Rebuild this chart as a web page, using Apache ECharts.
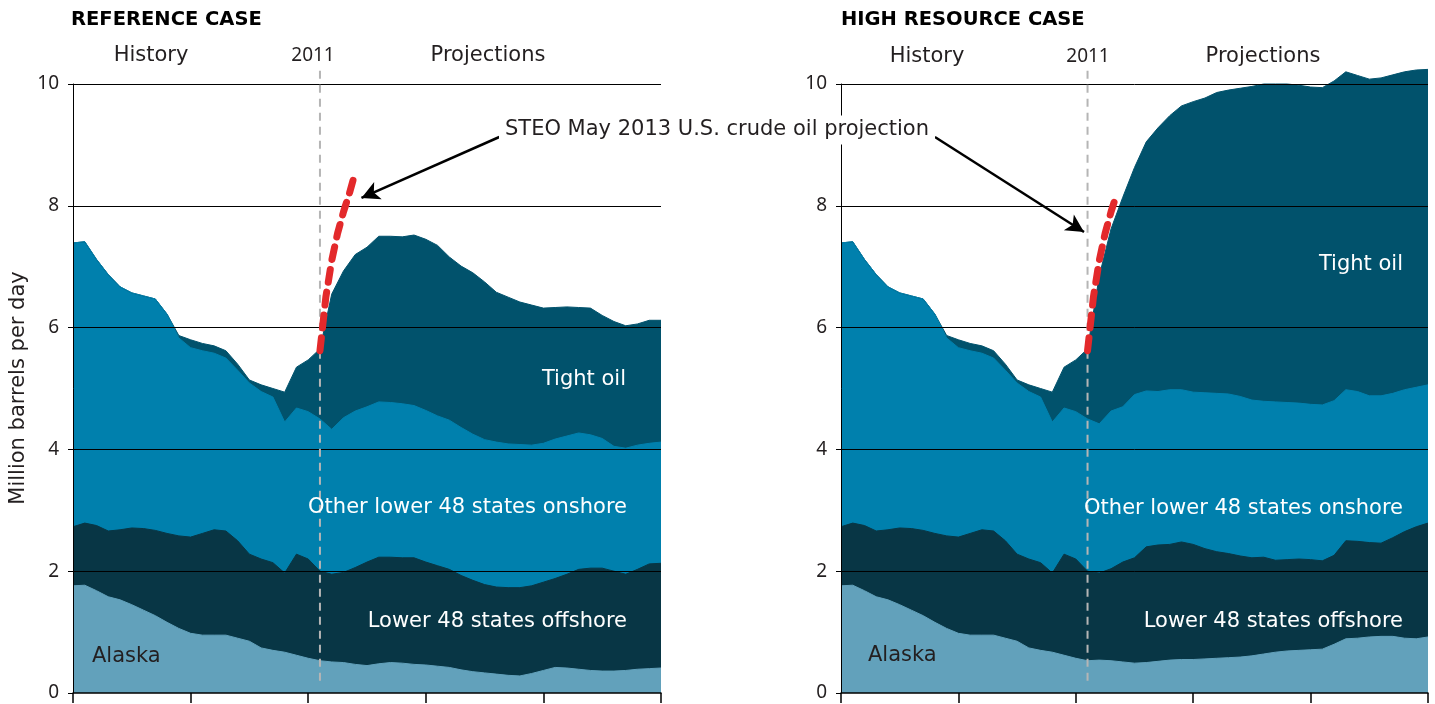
<!DOCTYPE html>
<html>
<head>
<meta charset="utf-8">
<script src="https://cdn.jsdelivr.net/npm/echarts@6/dist/echarts.min.js"></script>
<style>
  html, body { margin: 0; padding: 0; background: #fff; }
  #chart { width: 1435px; height: 704px; }
</style>
</head>
<body>
<div id="chart"></div>
<script>
// years on the x axis
const histYears = [1990, 1991, 1992, 1993, 1994, 1995, 1996, 1997, 1998, 1999, 2000,
  2001, 2002, 2003, 2004, 2005, 2006, 2007, 2008, 2009, 2010, 2011]
const projYears = [2012, 2013, 2014, 2015, 2016, 2017, 2018, 2019, 2020, 2021, 2022,
  2023, 2024, 2025, 2026, 2027, 2028, 2029, 2030, 2031, 2032, 2033, 2034, 2035,
  2036, 2037, 2038, 2039, 2040]

// history (same in both cases), million barrels per day
const alaskaHist = [1.76, 1.77, 1.68, 1.58, 1.53, 1.45, 1.36, 1.27, 1.16, 1.06, 0.98,
  0.95, 0.95, 0.95, 0.90, 0.85, 0.74, 0.70, 0.67, 0.62, 0.57, 0.53]
const offshoreHist = [0.97, 1.02, 1.07, 1.08, 1.15, 1.26, 1.34, 1.40, 1.46, 1.52, 1.58,
  1.67, 1.73, 1.71, 1.60, 1.43, 1.46, 1.44, 1.30, 1.66, 1.63, 1.47]
const onshoreHist = [4.66, 4.62, 4.37, 4.21, 3.99, 3.86, 3.82, 3.80, 3.60, 3.25, 3.11,
  3.00, 2.90, 2.84, 2.80, 2.81, 2.75, 2.72, 2.48, 2.40, 2.42, 2.50]
const tightHist = [0, 0, 0, 0, 0, 0, 0, 0, 0, 0.04, 0.13,
  0.12, 0.12, 0.12, 0.10, 0.05, 0.11, 0.14, 0.49, 0.67, 0.85, 1.15]

// reference case projections
const alaskaRef = [0.51, 0.50, 0.47, 0.45, 0.48, 0.50, 0.49, 0.47, 0.46, 0.44, 0.42,
  0.38, 0.35, 0.33, 0.31, 0.29, 0.28, 0.32, 0.37, 0.42, 0.41, 0.39, 0.37, 0.36,
  0.36, 0.37, 0.39, 0.40, 0.41]
const offshoreRef = [1.44, 1.48, 1.59, 1.70, 1.75, 1.73, 1.73, 1.75, 1.69, 1.65, 1.61,
  1.55, 1.50, 1.45, 1.43, 1.44, 1.45, 1.44, 1.45, 1.46, 1.54, 1.64, 1.68, 1.69,
  1.64, 1.58, 1.64, 1.72, 1.72]
const onshoreRef = [2.38, 2.54, 2.57, 2.55, 2.55, 2.54, 2.53, 2.50, 2.49, 2.46, 2.45,
  2.43, 2.40, 2.38, 2.38, 2.36, 2.35, 2.31, 2.28, 2.29, 2.27, 2.24, 2.19, 2.13,
  2.05, 2.07, 2.04, 1.98, 1.99]
const tightRef = [2.22, 2.41, 2.57, 2.62, 2.72, 2.73, 2.74, 2.80, 2.81, 2.80, 2.68,
  2.65, 2.65, 2.59, 2.46, 2.41, 2.34, 2.30, 2.22, 2.16, 2.12, 2.06, 2.08, 2.02,
  2.05, 2.01, 1.99, 2.02, 2.00]

// high resource case projections
const alaskaHigh = [0.54, 0.53, 0.51, 0.49, 0.50, 0.52, 0.54, 0.55, 0.55, 0.56, 0.57,
  0.58, 0.59, 0.61, 0.64, 0.67, 0.69, 0.70, 0.71, 0.72, 0.80, 0.89, 0.90, 0.92,
  0.93, 0.93, 0.90, 0.89, 0.92]
const offshoreHigh = [1.43, 1.51, 1.64, 1.73, 1.90, 1.91, 1.90, 1.93, 1.89, 1.81, 1.75,
  1.71, 1.66, 1.61, 1.59, 1.51, 1.50, 1.50, 1.48, 1.45, 1.46, 1.61, 1.59, 1.55,
  1.53, 1.62, 1.75, 1.84, 1.87]
const onshoreHigh = [2.45, 2.59, 2.55, 2.68, 2.56, 2.52, 2.54, 2.50, 2.50, 2.56, 2.60,
  2.62, 2.62, 2.59, 2.56, 2.60, 2.58, 2.56, 2.55, 2.56, 2.54, 2.48, 2.46, 2.41,
  2.42, 2.37, 2.33, 2.29, 2.27]
const tightHigh = [2.43, 2.99, 3.44, 3.73, 4.09, 4.33, 4.50, 4.66, 4.77, 4.84, 4.94,
  4.99, 5.06, 5.15, 5.21, 5.22, 5.23, 5.22, 5.21, 5.21, 5.25, 5.22, 5.19, 5.20,
  5.22, 5.23, 5.22, 5.21, 5.18]

// STEO May 2013 projection (red dashes)
const steoYears = [2011, 2011.5, 2012, 2012.5, 2013, 2013.5, 2014]
const steoValues = [5.62, 6.5, 7.1, 7.55, 7.9, 8.2, 8.55]

const yTicks = [2, 4, 6, 8, 10]
const splitYear = 2011
const splitSpan = [0.2, 10.25]

const FONT = '"Noto Sans", sans-serif'
const LABEL_FONT = '"DejaVu Sans", sans-serif'
const colors = {
  alaska: '#62a1bb',
  offshore: '#083645',
  onshore: '#0080ad',
  tight: '#01526c'
}

const years = histYears.concat(projYears)
const pairs = (xs, vs) => xs.map((x, i) => [x, vs[i]])

const chart = echarts.init(document.getElementById('chart'))

const grids = [
  { left: 73, width: 588, top: 84, height: 609 },
  { left: 841, width: 587, top: 84, height: 609 }
]

const cases = [
  {
    layers: [
      [alaskaHist.concat(alaskaRef), colors.alaska],
      [offshoreHist.concat(offshoreRef), colors.offshore],
      [onshoreHist.concat(onshoreRef), colors.onshore],
      [tightHist.concat(tightRef), colors.tight]
    ],
    steo: pairs(steoYears, steoValues),
    arrow: [[2026.25, 9.13], [2014.53, 8.13]]
  },
  {
    layers: [
      [alaskaHist.concat(alaskaHigh), colors.alaska],
      [offshoreHist.concat(offshoreHigh), colors.offshore],
      [onshoreHist.concat(onshoreHigh), colors.onshore],
      [tightHist.concat(tightHigh), colors.tight]
    ],
    steo: pairs(steoYears.slice(0, 6), steoValues.slice(0, 6)),
    arrow: [[1998, 9.13], [2010.7, 7.57]]
  }
]

const xAxes = grids.map((g, i) => ({
  gridIndex: i,
  type: 'value',
  min: 1990,
  max: 2040,
  interval: 10,
  z: 10,
  axisLine: { lineStyle: { color: '#000', width: 1.5 } },
  axisTick: { length: 10, lineStyle: { color: '#000', width: 1.5 } },
  axisLabel: { show: false },
  splitLine: { show: false }
}))

const yAxes = grids.map((g, i) => ({
  gridIndex: i,
  type: 'value',
  min: 0,
  max: 10,
  interval: 2,
  z: 10,
  axisLine: { show: true, lineStyle: { color: '#000', width: 1 } },
  axisTick: { show: true, length: 5, lineStyle: { color: '#000' } },
  axisLabel: { fontSize: 19, color: '#231f20', margin: 14, fontFamily: FONT },
  splitLine: { show: false }
}))

const series = []
cases.forEach((c, i) => {
  // running totals, top layer drawn first so lower layers sit on top of it
  const tops = []
  c.layers.forEach(([vals], k) => {
    tops.push(vals.map((v, j) => +(v + (k ? tops[k - 1][j] : 0)).toFixed(2)))
  })
  for (let k = c.layers.length - 1; k >= 0; k--) {
    const color = c.layers[k][1]
    const s = {
      type: 'line',
      xAxisIndex: i,
      yAxisIndex: i,
      symbol: 'none',
      silent: true,
      clip: false,
      lineStyle: { width: 1, color: color },
      areaStyle: { color: color, opacity: 1, origin: 'start' },
      data: pairs(years, tops[k])
    }
    if (k === 0) {
      // gridlines drawn over the areas
      s.markLine = {
        silent: true,
        symbol: 'none',
        z: 5,
        label: { show: false },
        lineStyle: { color: '#000', width: 1, type: 'solid' },
        data: yTicks.map((v) => ({ yAxis: v }))
      }
    }
    series.push(s)
  }

  // 2011 history / projection divider
  series.push({
    type: 'line',
    xAxisIndex: i,
    yAxisIndex: i,
    symbol: 'none',
    silent: true,
    clip: false,
    z: 6,
    lineStyle: { color: '#b5b5b5', width: 2, type: [8, 6] },
    data: [[splitYear, splitSpan[0]], [splitYear, splitSpan[1]]]
  })

  series.push({
    type: 'line',
    xAxisIndex: i,
    yAxisIndex: i,
    symbol: 'none',
    silent: true,
    clip: false,
    z: 7,
    lineStyle: { color: '#e3292b', width: 7, type: [13, 10], cap: 'round' },
    data: c.steo,
    markLine: {
      silent: true,
      z: 8,
      label: { show: false },
      symbol: ['none', 'arrow'],
      symbolSize: [14, 18],
      lineStyle: { color: '#000', width: 2.5, type: 'solid' },
      data: [[{ coord: c.arrow[0] }, { coord: c.arrow[1] }]]
    }
  })
})

const txt = (text, x, y, align, opts) => Object.assign({
  type: 'text',
  x: x,
  y: y,
  z: 20,
  style: Object.assign({
    text: text,
    fill: '#231f20',
    font: '21px ' + LABEL_FONT,
    align: align,
    verticalAlign: 'middle'
  }, (opts && opts.style) || {})
}, (opts && opts.el) || {})

const white = { style: { fill: '#fff' } }
const head = { style: { font: 'bold 19.5px ' + LABEL_FONT, fill: '#000' } }
const num = { style: { font: '19px ' + FONT } }

const graphic = [
  txt('REFERENCE CASE', 71, 20, 'left', head),
  txt('HIGH RESOURCE CASE', 841, 20, 'left', head),
  txt('History', 151, 56, 'center'),
  txt('2011', 313, 56, 'center', num),
  txt('Projections', 488, 56, 'center'),
  txt('History', 927, 57, 'center'),
  txt('2011', 1088, 57, 'center', num),
  txt('Projections', 1263, 57, 'center'),
  txt('STEO May 2013 U.S. crude oil projection', 717, 130, 'center',
    { style: { backgroundColor: '#fff', padding: [4, 6] } }),
  txt('Tight oil', 626, 380, 'right', white),
  txt('Other lower 48 states onshore', 627, 508, 'right', white),
  txt('Lower 48 states offshore', 627, 622, 'right', white),
  txt('Alaska', 92, 657, 'left'),
  txt('Tight oil', 1403, 265, 'right', white),
  txt('Other lower 48 states onshore', 1403, 509, 'right', white),
  txt('Lower 48 states offshore', 1403, 622, 'right', white),
  txt('Alaska', 868, 656, 'left'),
  txt('Million barrels per day', 19, 388, 'center', { el: { rotation: Math.PI / 2 } })
]

chart.setOption({
  animation: false,
  textStyle: { fontFamily: FONT },
  grid: grids,
  xAxis: xAxes,
  yAxis: yAxes,
  series: series,
  graphic: graphic
})
</script>
</body>
</html>
